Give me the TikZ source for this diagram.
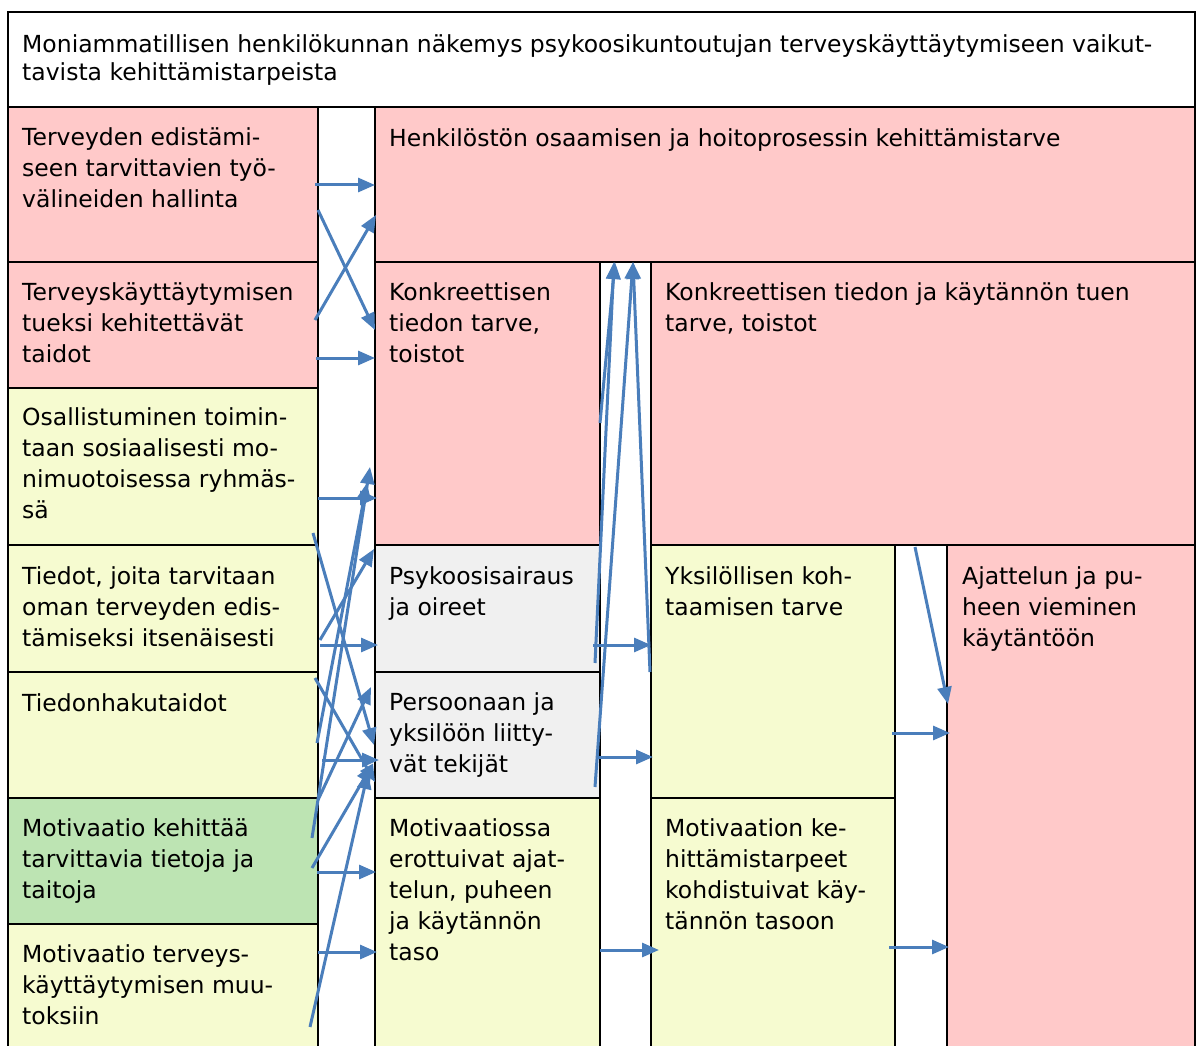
\documentclass[tikz,border=0pt]{standalone}
\usepackage{fontspec}
\setmainfont{DejaVu Sans}
\usetikzlibrary{arrows.meta}
\definecolor{cellpink}{HTML}{FFC9C9}
\definecolor{cellyellow}{HTML}{F6FBD0}
\definecolor{cellgreen}{HTML}{BDE4B3}
\definecolor{cellgrey}{HTML}{F0F0F0}
\definecolor{flowblue}{HTML}{4A7EBB}
\tikzset{
  cell/.style={draw=black, line width=1.6pt, inner sep=0pt, outer sep=0pt, anchor=north west},
  txt/.style={anchor=north west, align=left, inner sep=0pt,
    font=\fontsize{23.5}{31}\selectfont, execute at begin node={\rule{0pt}{19pt}}},
  flow/.style={draw=flowblue, line width=3pt, -{Triangle[length=17pt,width=14pt]}},
}
% cell from (x1,y1) to (x2,y2), y measured downwards
\newcommand{\tabcell}[6]{%
  \node[cell, fill=#2, minimum width=#5pt-#3pt, minimum height=#6pt-#4pt] (#1) at (#3,#4) {};}
\begin{document}
\begin{tikzpicture}[x=1pt, y=-1pt]
\useasboundingbox (0,0) rectangle (1200,1046);
\fill[white] (0,0) rectangle (1200,1046);
\clip (0,0) rectangle (1200,1046);

% table cells
\tabcell{title}{white}{8}{12}{1195}{107}
\tabcell{L1}{cellpink}{8}{107}{318}{262}
\tabcell{L2}{cellpink}{8}{262}{318}{388}
\tabcell{L3}{cellyellow}{8}{388}{318}{545}
\tabcell{L4}{cellyellow}{8}{545}{318}{672}
\tabcell{L5}{cellyellow}{8}{672}{318}{798}
\tabcell{L6}{cellgreen}{8}{798}{318}{924}
\tabcell{L7}{cellyellow}{8}{924}{318}{1060}
\tabcell{M1}{cellpink}{375}{107}{1195}{262}
\tabcell{M2}{cellpink}{375}{262}{600}{545}
\tabcell{M3}{cellgrey}{375}{545}{600}{672}
\tabcell{M4}{cellgrey}{375}{672}{600}{798}
\tabcell{M5}{cellyellow}{375}{798}{600}{1060}
\tabcell{R1}{cellpink}{651}{262}{1195}{545}
\tabcell{R2}{cellyellow}{651}{545}{895}{798}
\tabcell{R3}{cellyellow}{651}{798}{895}{1060}
\tabcell{F1}{cellpink}{947}{545}{1195}{1060}

% texts
\node[txt, font=\fontsize{23.5}{28}\selectfont] (tTitle) at (22,34) {Moniammatillisen henkilökunnan näkemys psykoosikuntoutujan terveyskäyttäytymiseen vaikut-\\tavista kehittämistarpeista};
\node[txt] (tL1) at (22,127) {Terveyden edistämi-\\seen tarvittavien työ-\\välineiden hallinta};
\node[txt] (tL2) at (22,282) {Terveyskäyttäytymisen\\tueksi kehitettävät\\taidot};
\node[txt] (tL3) at (22,407) {Osallistuminen toimin-\\taan sosiaalisesti mo-\\nimuotoisessa ryhmäs-\\sä};
\node[txt] (tL4) at (22,566) {Tiedot, joita tarvitaan\\oman terveyden edis-\\tämiseksi itsenäisesti};
\node[txt] (tL5) at (22,692) {Tiedonhakutaidot};
\node[txt] (tL6) at (22,818) {Motivaatio kehittää\\tarvittavia tietoja ja\\taitoja};
\node[txt] (tL7) at (22,944) {Motivaatio terveys-\\käyttäytymisen muu-\\toksiin};
\node[txt] (tM1) at (389,127) {Henkilöstön osaamisen ja hoitoprosessin kehittämistarve};
\node[txt] (tM2) at (389,282) {Konkreettisen\\tiedon tarve,\\toistot};
\node[txt] (tM3) at (389,566) {Psykoosisairaus\\ja oireet};
\node[txt] (tM4) at (389,692) {Persoonaan ja\\yksilöön liitty-\\vät tekijät};
\node[txt] (tM5) at (389,818) {Motivaatiossa\\erottuivat ajat-\\telun, puheen\\ja käytännön\\taso};
\node[txt] (tR1) at (665,282) {Konkreettisen tiedon ja käytännön tuen\\tarve, toistot};
\node[txt] (tR2) at (665,566) {Yksilöllisen koh-\\taamisen tarve};
\node[txt] (tR3) at (665,818) {Motivaation ke-\\hittämistarpeet\\kohdistuivat käy-\\tännön tasoon};
\node[txt] (tF1) at (962,566) {Ajattelun ja pu-\\heen vieminen\\käytäntöön};

% arrow end points, first gap
\coordinate (a1s) at (315,185);  \coordinate (a1e) at (375,185);
\coordinate (a2s) at (318,210);  \coordinate (a2e) at (375,330);
\coordinate (a3s) at (315,320);  \coordinate (a3e) at (376,215);
\coordinate (a4s) at (316,358);  \coordinate (a4e) at (375,358);
\coordinate (a5s) at (318,498);  \coordinate (a5e) at (377,498);
\coordinate (a6s) at (313,533);  \coordinate (a6e) at (374,745);
\coordinate (a7s) at (320,645);  \coordinate (a7e) at (378,645);
\coordinate (a8s) at (320,640);  \coordinate (a8e) at (374,549);
\coordinate (a9s) at (315,678);  \coordinate (a9e) at (375,782);
\coordinate (a10s) at (322,760); \coordinate (a10e) at (379,760);
\coordinate (a11s) at (317,743); \coordinate (a11e) at (367,483);
\coordinate (a12s) at (312,838); \coordinate (a12e) at (370,467);
\coordinate (a13s) at (312,868); \coordinate (a13e) at (372,765);
\coordinate (a14s) at (317,872); \coordinate (a14e) at (376,872);
\coordinate (a15s) at (310,1027);\coordinate (a15e) at (368,772);
\coordinate (a16s) at (318,952); \coordinate (a16e) at (377,952);
\coordinate (a17s) at (318,800); \coordinate (a17e) at (371,687);
% second gap
\coordinate (b1s) at (600,423);  \coordinate (b1e) at (615,262);
\coordinate (b2s) at (595,663);  \coordinate (b2e) at (614,262);
\coordinate (b3s) at (595,787);  \coordinate (b3e) at (633,262);
\coordinate (b4s) at (650,672);  \coordinate (b4e) at (633,262);
\coordinate (b5s) at (593,645);  \coordinate (b5e) at (651,645);
\coordinate (b6s) at (596,757);  \coordinate (b6e) at (653,757);
\coordinate (b7s) at (600,950);  \coordinate (b7e) at (659,950);
% third gap
\coordinate (c1s) at (915,547);  \coordinate (c1e) at (948,704);
\coordinate (c2s) at (892,733);  \coordinate (c2e) at (950,733);
\coordinate (c3s) at (889,947);  \coordinate (c3e) at (949,947);

\foreach \k in {a1,a2,a3,a4,a5,a6,a7,a8,a9,a10,a11,a12,a13,a14,a15,a16,a17,b1,b2,b3,b4,b5,b6,b7,c1,c2,c3}
  \draw[flow] (\k s) -- (\k e);
\end{tikzpicture}
\end{document}
